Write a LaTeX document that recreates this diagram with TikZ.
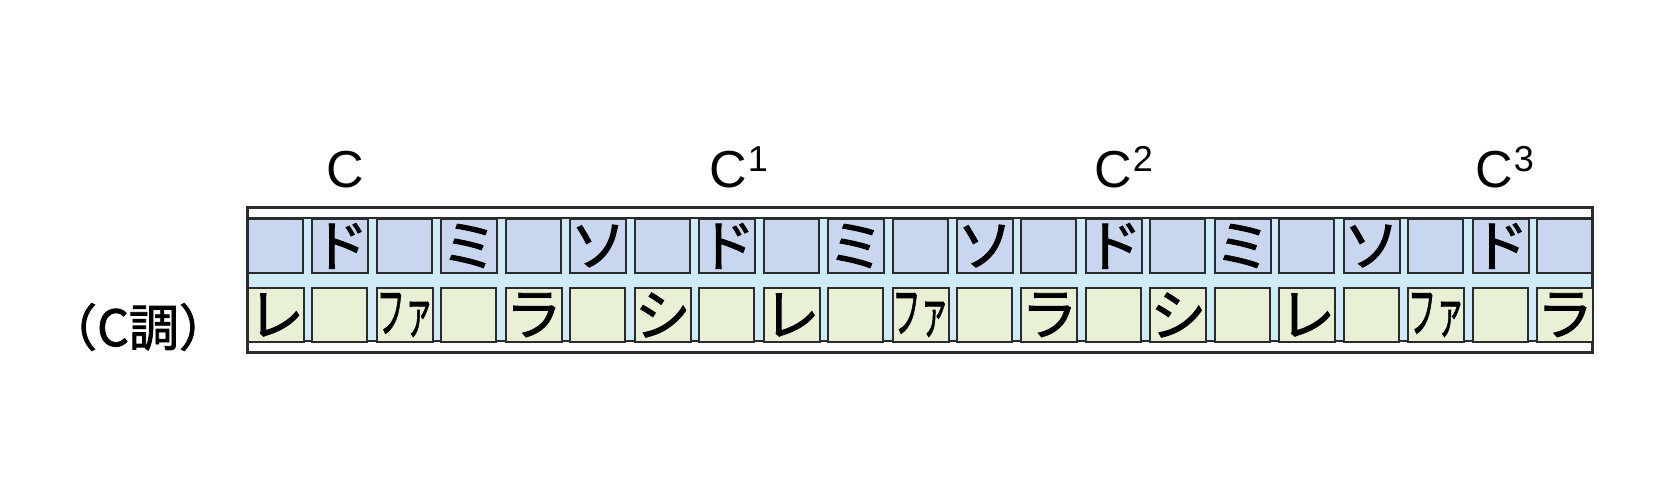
\documentclass[tikz,border=0pt]{standalone}
\usepackage{fontspec}
\usepackage{graphicx}
\setmainfont{Liberation Sans}
\newfontfamily\jpfont[FakeBold=1.6]{Noto Sans CJK JP}

\definecolor{toprow}{HTML}{C8D7EF}
\definecolor{gaprow}{HTML}{D0EBF8}
\definecolor{botrow}{HTML}{E8F1D6}
\definecolor{edge}{HTML}{2B2B2B}

\newcommand{\fanote}{\scalebox{0.5}[1]{ファ}}
\newcommand{\oct}[1]{C\rlap{\hspace{0.5pt}\raisebox{8pt}{\fontsize{18}{18}\selectfont #1}}}

\tikzset{
  cell/.style={draw=edge, line width=1pt, minimum width=27.5pt, minimum height=27pt,
    inner sep=0pt, anchor=north west, font=\jpfont\fontsize{28}{28}\selectfont},
  upper/.style={cell, fill=toprow},
  lower/.style={cell, fill=botrow},
  octave/.style={anchor=base, inner sep=0pt, font=\fontsize{26}{26}\selectfont}
}

\begin{document}
\begin{tikzpicture}[x=0.5pt, y=-0.5pt]

\useasboundingbox (0, 0) rectangle (1666, 500);

\fill[gaprow] (247, 218) rectangle (1592, 341);
\draw[edge, line width=1.5pt] (247, 207) rectangle (1592, 352);
\draw[edge, line width=1pt] (247, 218) -- (1592, 218) (247, 341) -- (1592, 341);

\foreach \t [count=\i from 0] in {{},ド,{},ミ,{},ソ,{},ド,{},ミ,{},ソ,{},ド,{},ミ,{},ソ,{},ド,{}}
  \node[upper] (t\i) at ({247 + \i*64.45}, 218) {\t};

\foreach \t [count=\i from 0] in {レ,{},\fanote,{},ラ,{},シ,{},レ,{},\fanote,{},ラ,{},シ,{},レ,{},\fanote,{},ラ}
  \node[lower] (b\i) at ({247 + \i*64.45}, 287) {\t};

\node[octave] (c0) at (345, 187) {C};
\node[octave] (c1) at (728, 187) {\oct{1}};
\node[octave] (c2) at (1113, 187) {\oct{2}};
\node[octave] (c3) at (1494, 187) {\oct{3}};

\node[font=\jpfont\fontsize{25}{25}\selectfont] (key) at (138, 327) {（C調）};

\end{tikzpicture}
\end{document}
